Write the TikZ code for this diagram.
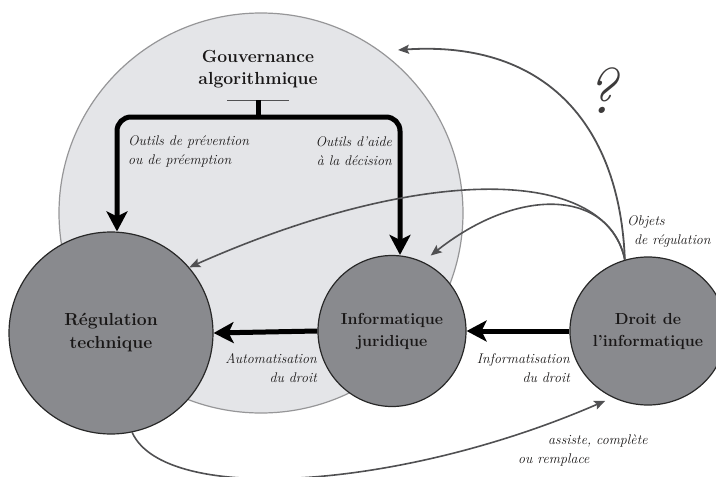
\documentclass[tikz,border=0pt]{standalone}
\usepackage{fontspec}
\usetikzlibrary{shapes.geometric,arrows.meta}
\definecolor{lightfill}{RGB}{228,229,232}
\definecolor{lightline}{RGB}{150,150,152}
\definecolor{darkfill}{RGB}{137,138,142}
\definecolor{darkline}{RGB}{40,40,40}
\definecolor{greyarrow}{RGB}{80,80,82}
\definecolor{qmark}{RGB}{60,58,58}
\definecolor{txt}{RGB}{25,23,23}
\tikzset{
  bigcirc/.style={ellipse, draw=lightline, fill=lightfill, line width=1.2pt, inner sep=0pt},
  topic/.style={ellipse, draw=darkline, fill=darkfill, line width=1.2pt, inner sep=0pt, align=center,
    font=\bfseries\fontsize{16}{22}\selectfont, text=txt},
  thickarrow/.style={line width=5pt, -{Stealth[length=20pt,width=21pt,inset=5pt]}},
  greyarr/.style={draw=greyarrow, line width=1.6pt, -{Stealth[length=11pt,width=9pt,inset=2pt]}},
  lbl/.style={font=\itshape\fontsize{14}{19}\selectfont, text=txt, inner sep=0pt},
}
\begin{document}
\begin{tikzpicture}[x=1pt,y=-1pt]
\useasboundingbox (0,0) rectangle (716,477);
\node[bigcirc, minimum width=404pt, minimum height=400pt] (gov) at (261,213) {};
\node[topic, minimum width=204pt, minimum height=202pt, font=\bfseries\fontsize{17.5}{23}\selectfont] (reg) at (111,333) {Régulation\\technique};
\node[topic, minimum width=148pt, minimum height=151pt] (inf) at (392,331) {Informatique\\juridique};
\node[topic, minimum width=146pt, minimum height=148pt] (dro) at (648,331) {Droit de\\l'informatique};

\node[font=\bfseries\fontsize{17.5}{22}\selectfont, align=center, text=txt] (title) at (258,69.5) {Gouvernance\\algorithmique};
\coordinate (bar) at (258,100);
\coordinate (fork) at (258,117);
\draw[line width=1pt, greyarrow] ([xshift=-31pt]bar) -- ([xshift=31pt]bar);
\draw[line width=5pt] (bar) -- (fork);
\draw[thickarrow, rounded corners=14pt] (fork) -| ([xshift=6pt]reg.north);
\draw[thickarrow, rounded corners=14pt] (fork) -| ([xshift=8pt]inf.north);

\draw[thickarrow] (inf.west) -- (reg.east);
\draw[thickarrow] (dro.west) -- (inf.east);

\coordinate (q) at (398,50);
\draw[greyarr, line width=1.8pt] (dro.108) .. controls (620,130) and (550,40) .. (q);
\draw[greyarr] (dro.108) .. controls (605,165) and (420,165) .. (reg.40);
\draw[greyarr, shorten >=10pt] (dro.108) .. controls (610,190) and (520,185) .. (inf.66);
\draw[greyarr, shorten >=8pt] (reg.-78) .. controls (165,505) and (400,490) .. (dro.-118);

\node[lbl, align=right, anchor=east] (l1) at (317,368) {Automatisation\\du droit};
\node[lbl, align=right, anchor=east] (l2) at (570,368) {Informatisation\\du droit};
\node[lbl, align=left, anchor=west] (l3) at (128,151) {Outils de prévention\\ou de préemption};
\node[lbl, align=right, anchor=east] (l4) at (392,151) {Outils d'aide\\à la décision};
\node[lbl, align=left, anchor=west] (l5) at (627,231) {Objets\\\hspace*{7pt}de régulation};
\node[lbl, align=left, anchor=west] (l6) at (518,450) {\hspace*{30pt}assiste, complète\\ou remplace};
\node[font=\itshape\fontsize{64}{64}\selectfont, text=qmark, inner sep=0pt] (qm) at (601,91) {?};
\end{tikzpicture}
\end{document}
